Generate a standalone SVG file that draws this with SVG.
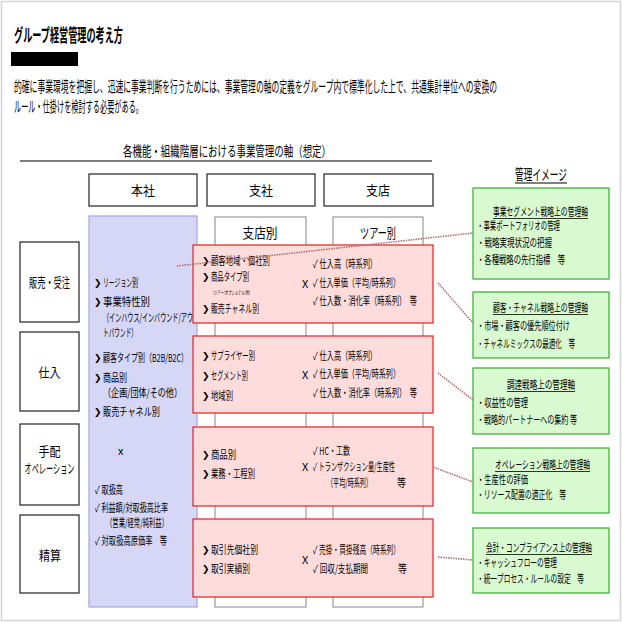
<svg xmlns="http://www.w3.org/2000/svg" width="623" height="623" viewBox="0 0 623 623">
<style>
text{font-family:"Noto Sans CJK JP","Noto Sans",sans-serif;fill:#000}
.s{font-size:11px}
.m{font-size:13px}
.h{font-size:14px}
.b{font-size:15px}
.tiny{font-size:5px}
.ttl{font-size:18px;font-weight:bold}
.ar{font-family:"DejaVu Sans",sans-serif;font-size:9px;font-weight:bold}
.box{fill:#fff;stroke:#222;stroke-width:1.2}
.sub{fill:#fff;stroke:#999;stroke-width:1.2}
.blue{fill:#d6d6f6;stroke:#a4a4e4;stroke-width:1.2}
.red{fill:#ffdcdc;stroke:#e03030;stroke-width:1.3}
.green{fill:#d9f9d0;stroke:#44b040;stroke-width:1.3}
.con{stroke:#b07070;stroke-width:1.6;stroke-dasharray:1.5 1;fill:none}
.ul{stroke:#000;stroke-width:0.8}
</style>
<rect x="1.5" y="1.5" width="619" height="619" fill="#fff" stroke="#d4d4d4" stroke-width="1.5"/>

<g id="title">
<text class="ttl" x="14" y="42" textLength="109" lengthAdjust="spacingAndGlyphs">グループ経営管理の考え方</text>
<rect x="11" y="52" width="67" height="14" fill="#000"/>
<text class="b" x="14" y="92" textLength="483" lengthAdjust="spacingAndGlyphs">的確に事業環境を把握し、迅速に事業判断を行うためには、事業管理の軸の定義をグループ内で標準化した上で、共通集計単位への変換の</text>
<text class="b" x="14" y="112" textLength="129" lengthAdjust="spacingAndGlyphs">ルール・仕掛けを検討する必要がある。</text>
</g>

<g id="axis-title">
<text class="h" x="123" y="156" textLength="208" lengthAdjust="spacingAndGlyphs">各機能・組織階層における事業管理の軸（想定）</text>
<line x1="20" y1="161" x2="432" y2="161" stroke="#000" stroke-width="1.2"/>
</g>

<g id="image-title">
<text class="b" x="515" y="180" textLength="52" lengthAdjust="spacingAndGlyphs">管理イメージ</text>
<line x1="515" y1="183" x2="567" y2="183" stroke="#000" stroke-width="1"/>
</g>

<g id="hdr-honsha"><rect class="box" x="89" y="174" width="108" height="32"/><text class="m" x="143" y="195" text-anchor="middle" textLength="24" lengthAdjust="spacingAndGlyphs">本社</text></g>
<g id="hdr-shisha"><rect class="box" x="207" y="174" width="108" height="32"/><text class="m" x="261" y="195" text-anchor="middle" textLength="24" lengthAdjust="spacingAndGlyphs">支社</text></g>
<g id="hdr-shiten"><rect class="box" x="324" y="174" width="109" height="32"/><text class="m" x="378" y="195" text-anchor="middle" textLength="24" lengthAdjust="spacingAndGlyphs">支店</text></g>

<g id="col-shitenbetsu"><rect class="sub" x="215" y="217" width="91" height="390"/><text class="h" x="260" y="238" text-anchor="middle" textLength="35" lengthAdjust="spacingAndGlyphs">支店別</text></g>
<g id="col-tourbetsu"><rect class="sub" x="333" y="217" width="90" height="390"/><text class="h" x="378" y="238" text-anchor="middle" textLength="36" lengthAdjust="spacingAndGlyphs">ツアー別</text></g>

<g id="row-sales"><rect class="box" x="20" y="242" width="59" height="80"/><text class="m" x="49.5" y="287" text-anchor="middle" textLength="41" lengthAdjust="spacingAndGlyphs">販売・受注</text></g>
<g id="row-purchase"><rect class="box" x="20" y="332" width="59" height="79"/><text class="m" x="49.5" y="377" text-anchor="middle" textLength="22" lengthAdjust="spacingAndGlyphs">仕入</text></g>
<g id="row-operation"><rect class="box" x="20" y="424" width="59" height="81"/><text class="m" x="49.5" y="456" text-anchor="middle" textLength="22" lengthAdjust="spacingAndGlyphs">手配</text><text class="m" x="49.5" y="473" text-anchor="middle" textLength="50" lengthAdjust="spacingAndGlyphs">オペレーション</text></g>
<g id="row-settlement"><rect class="box" x="20" y="515" width="59" height="78"/><text class="m" x="50" y="560" text-anchor="middle" textLength="22" lengthAdjust="spacingAndGlyphs">精算</text></g>

<g id="honsha-axis">
<rect class="blue" x="89" y="216" width="108" height="391"/>
<text class="ar" x="94" y="286">❯</text>
<text class="s" x="103" y="287" textLength="35" lengthAdjust="spacingAndGlyphs">リージョン別</text>
<text class="ar" x="94" y="305">❯</text>
<text class="s" x="103" y="306" textLength="47" lengthAdjust="spacingAndGlyphs">事業特性別</text>
<text class="s" x="103" y="322" textLength="90" lengthAdjust="spacingAndGlyphs">（インハウス/インバウンド/アウ</text>
<text class="s" x="103" y="337" textLength="34" lengthAdjust="spacingAndGlyphs">トバウンド）</text>
<text class="ar" x="94" y="361">❯</text>
<text class="s" x="103" y="362" textLength="85" lengthAdjust="spacingAndGlyphs">顧客タイプ別（B2B/B2C）</text>
<text class="ar" x="94" y="381">❯</text>
<text class="s" x="103" y="382" textLength="24" lengthAdjust="spacingAndGlyphs">商品別</text>
<text class="s" x="103" y="397" textLength="79" lengthAdjust="spacingAndGlyphs">（企画/団体/その他）</text>
<text class="ar" x="94" y="415">❯</text>
<text class="s" x="103" y="416" textLength="57" lengthAdjust="spacingAndGlyphs">販売チャネル別</text>
<text class="s" x="118" y="455">x</text>
<text class="s" x="95" y="494" textLength="28" lengthAdjust="spacingAndGlyphs">✓ 取扱高</text>
<text class="s" x="95" y="512" textLength="73" lengthAdjust="spacingAndGlyphs">✓ 利益額/対取扱高比率</text>
<text class="s" x="106" y="527" textLength="62" lengthAdjust="spacingAndGlyphs">（営業/経常/純利益）</text>
<text class="s" x="95" y="545" textLength="72" lengthAdjust="spacingAndGlyphs">✓ 対取扱高原価率　等</text>
</g>

<g id="red-sales">
<rect class="red" x="193" y="245" width="240" height="78"/>
<text class="ar" x="202" y="264">❯</text>
<text class="s" x="211" y="265" textLength="59" lengthAdjust="spacingAndGlyphs">顧客地域・個社別</text>
<text class="ar" x="202" y="280">❯</text>
<text class="s" x="211" y="281" textLength="38" lengthAdjust="spacingAndGlyphs">商品タイプ別</text>
<text class="tiny" x="213" y="294" textLength="37" lengthAdjust="spacingAndGlyphs">(ツアー/オプショナル/他)</text>
<text class="ar" x="202" y="312">❯</text>
<text class="s" x="211" y="313" textLength="48" lengthAdjust="spacingAndGlyphs">販売チャネル別</text>
<text class="s" x="302" y="288">X</text>
<text class="s" x="313" y="268" textLength="64" lengthAdjust="spacingAndGlyphs">✓ 仕入高（時系列）</text>
<text class="s" x="313" y="287" textLength="87" lengthAdjust="spacingAndGlyphs">✓ 仕入単価（平均/時系列）</text>
<text class="s" x="313" y="305" textLength="104" lengthAdjust="spacingAndGlyphs">✓ 仕入数・消化率（時系列）　等</text>
</g>

<g id="red-purchase">
<rect class="red" x="193" y="336" width="240" height="77"/>
<text class="ar" x="202" y="359">❯</text>
<text class="s" x="211" y="360" textLength="44" lengthAdjust="spacingAndGlyphs">サプライヤー別</text>
<text class="ar" x="202" y="379">❯</text>
<text class="s" x="211" y="380" textLength="37" lengthAdjust="spacingAndGlyphs">セグメント別</text>
<text class="ar" x="202" y="399">❯</text>
<text class="s" x="211" y="400" textLength="22" lengthAdjust="spacingAndGlyphs">地域別</text>
<text class="s" x="302" y="379">X</text>
<text class="s" x="313" y="360" textLength="64" lengthAdjust="spacingAndGlyphs">✓ 仕入高（時系列）</text>
<text class="s" x="313" y="378" textLength="87" lengthAdjust="spacingAndGlyphs">✓ 仕入単価（平均/時系列）</text>
<text class="s" x="313" y="397" textLength="104" lengthAdjust="spacingAndGlyphs">✓ 仕入数・消化率（時系列）　等</text>
</g>

<g id="red-operation">
<rect class="red" x="193" y="427" width="240" height="79"/>
<text class="ar" x="202" y="458">❯</text>
<text class="s" x="211" y="459" textLength="25" lengthAdjust="spacingAndGlyphs">商品別</text>
<text class="ar" x="202" y="477">❯</text>
<text class="s" x="211" y="478" textLength="44" lengthAdjust="spacingAndGlyphs">業務・工程別</text>
<text class="s" x="302" y="471">X</text>
<text class="s" x="313" y="455" textLength="37" lengthAdjust="spacingAndGlyphs">✓ HC・工数</text>
<text class="s" x="313" y="471" textLength="82" lengthAdjust="spacingAndGlyphs">✓ トランザクション量/生産性</text>
<text class="s" x="327" y="487" textLength="45" lengthAdjust="spacingAndGlyphs">（平均/時系列）</text>
<text class="s" x="397" y="487" textLength="9" lengthAdjust="spacingAndGlyphs">等</text>
</g>

<g id="red-settlement">
<rect class="red" x="193" y="519" width="240" height="78"/>
<text class="ar" x="202" y="553">❯</text>
<text class="s" x="211" y="554" textLength="47" lengthAdjust="spacingAndGlyphs">取引先個社別</text>
<text class="ar" x="202" y="572">❯</text>
<text class="s" x="211" y="573" textLength="39" lengthAdjust="spacingAndGlyphs">取引実績別</text>
<text class="s" x="302" y="564">X</text>
<text class="s" x="313" y="554" textLength="87" lengthAdjust="spacingAndGlyphs">✓ 売掛・買掛残高（時系列）</text>
<text class="s" x="313" y="573" textLength="55" lengthAdjust="spacingAndGlyphs">✓ 回収/支払期間</text>
<text class="s" x="398" y="573" textLength="9" lengthAdjust="spacingAndGlyphs">等</text>
</g>

<g id="green-segment">
<rect class="green" x="473" y="188" width="136" height="91"/>
<text class="s" x="493" y="216" textLength="95" lengthAdjust="spacingAndGlyphs">事業セグメント戦略上の管理軸</text>
<line class="ul" x1="493" y1="218.5" x2="588" y2="218.5"/>
<text class="s" x="477" y="230" textLength="83" lengthAdjust="spacingAndGlyphs">・事業ポートフォリオの管理</text>
<text class="s" x="477" y="247" textLength="75" lengthAdjust="spacingAndGlyphs">・戦略実現状況の把握</text>
<text class="s" x="477" y="264" textLength="88" lengthAdjust="spacingAndGlyphs">・各種戦略の先行指標　等</text>
</g>

<g id="green-customer">
<rect class="green" x="473" y="292" width="136" height="66"/>
<text class="s" x="493" y="312" textLength="95" lengthAdjust="spacingAndGlyphs">顧客・チャネル戦略上の管理軸</text>
<line class="ul" x1="493" y1="314.5" x2="588" y2="314.5"/>
<text class="s" x="477" y="330" textLength="93" lengthAdjust="spacingAndGlyphs">・市場・顧客の優先順位付け</text>
<text class="s" x="477" y="348" textLength="98" lengthAdjust="spacingAndGlyphs">・チャネルミックスの最適化　等</text>
</g>

<g id="green-procurement">
<rect class="green" x="473" y="368" width="136" height="66"/>
<text class="s" x="507" y="389" textLength="68" lengthAdjust="spacingAndGlyphs">調達戦略上の管理軸</text>
<line class="ul" x1="507" y1="391.5" x2="575" y2="391.5"/>
<text class="s" x="477" y="407" textLength="51" lengthAdjust="spacingAndGlyphs">・収益性の管理</text>
<text class="s" x="477" y="424" textLength="100" lengthAdjust="spacingAndGlyphs">・戦略的パートナーへの集約 等</text>
</g>

<g id="green-operation">
<rect class="green" x="473" y="448" width="136" height="65"/>
<text class="s" x="495" y="469" textLength="95" lengthAdjust="spacingAndGlyphs">オペレーション戦略上の管理軸</text>
<line class="ul" x1="495" y1="471.5" x2="590" y2="471.5"/>
<text class="s" x="477" y="484" textLength="51" lengthAdjust="spacingAndGlyphs">・生産性の評価</text>
<text class="s" x="477" y="499" textLength="89" lengthAdjust="spacingAndGlyphs">・リソース配置の適正化　等</text>
</g>

<g id="green-accounting">
<rect class="green" x="473" y="528" width="136" height="65"/>
<text class="s" x="486" y="552" textLength="106" lengthAdjust="spacingAndGlyphs">会計・コンプライアンス上の管理軸</text>
<line class="ul" x1="486" y1="554.5" x2="592" y2="554.5"/>
<text class="s" x="477" y="567" textLength="80" lengthAdjust="spacingAndGlyphs">・キャッシュフローの管理</text>
<text class="s" x="477" y="583" textLength="107" lengthAdjust="spacingAndGlyphs">・統一プロセス・ルールの設定　等</text>
</g>

<g id="connectors">
<line class="con" x1="177" y1="266" x2="473" y2="233"/>
<line class="con" x1="438" y1="283" x2="473" y2="323"/>
<line class="con" x1="438" y1="373" x2="473" y2="400"/>
<line class="con" x1="433" y1="467" x2="473" y2="482"/>
<line class="con" x1="438" y1="557" x2="473" y2="560"/>
</g>
</svg>
